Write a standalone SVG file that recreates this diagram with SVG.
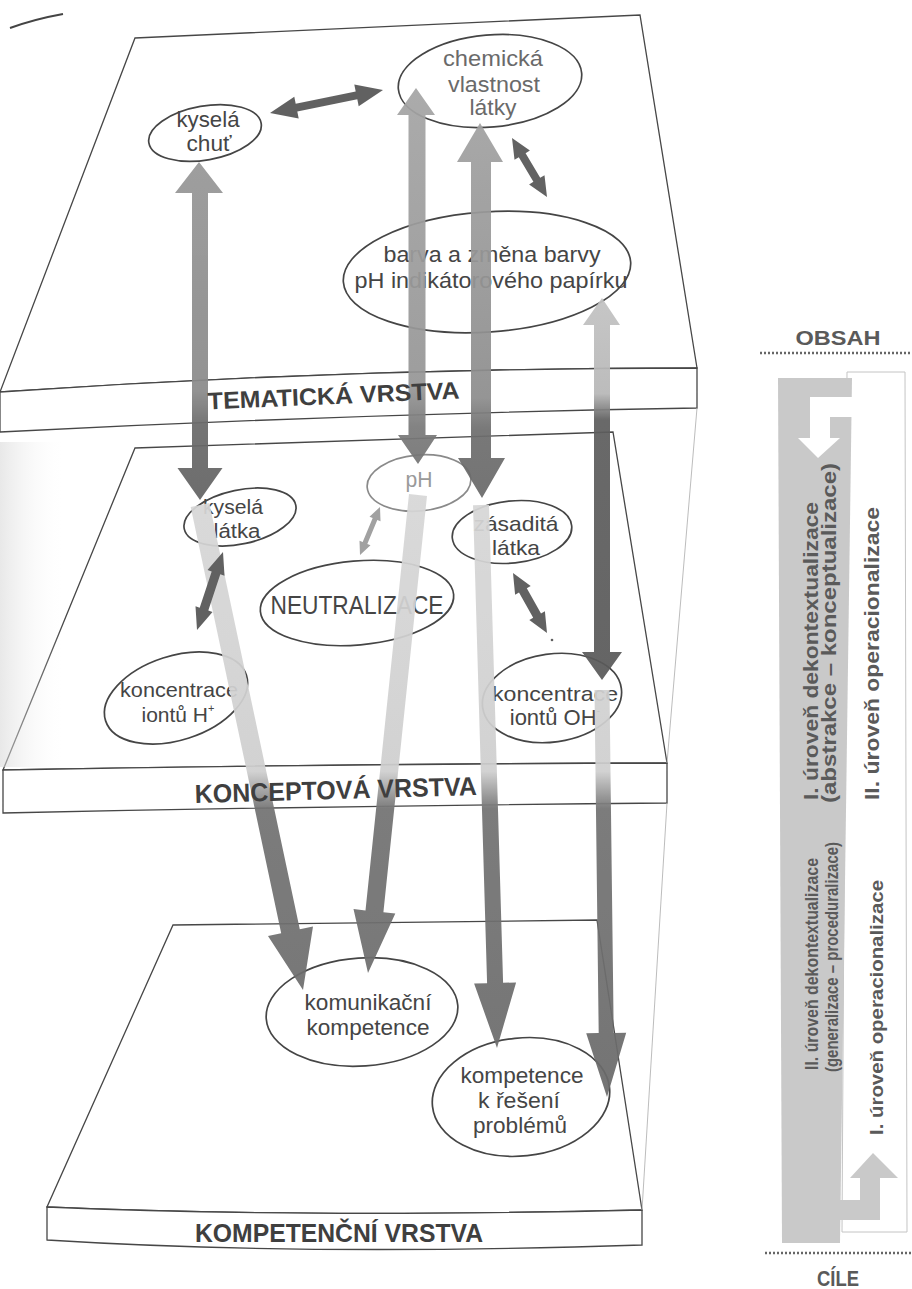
<svg xmlns="http://www.w3.org/2000/svg" width="912" height="1289" viewBox="0 0 912 1289">
<defs>
<style>
.face{fill:#fff;stroke:#474747;stroke-width:1.3}
.persp{stroke:#b4b4b4;stroke-width:0.9;fill:none}
.node ellipse{fill:none;stroke:#454545;stroke-width:1.7}
.t{font-family:"Liberation Sans",Arial,sans-serif;font-size:22px;fill:#454545;text-anchor:middle}
.lbl{font-family:"Liberation Sans",Arial,sans-serif;font-weight:bold;font-size:24px;fill:#3f3f3f;text-anchor:middle}
.dark{fill:#565656}
.side{font-family:"Liberation Sans",Arial,sans-serif;font-weight:bold;fill:#5a5a5a}
.dots{stroke:#666;stroke-width:2.5;stroke-dasharray:2 2;fill:none}
</style>
<linearGradient id="gA1" gradientUnits="userSpaceOnUse" x1="0" y1="160" x2="0" y2="500">
<stop offset="0" stop-color="#979797"/><stop offset="0.68" stop-color="#8a8a8a"/><stop offset="0.78" stop-color="#6a6a6a"/><stop offset="1" stop-color="#636363"/>
</linearGradient>
<linearGradient id="gA2" gradientUnits="userSpaceOnUse" x1="0" y1="88" x2="0" y2="464">
<stop offset="0" stop-color="#a5a5a5"/><stop offset="0.8" stop-color="#969696"/><stop offset="0.9" stop-color="#7a7a7a"/><stop offset="1" stop-color="#757575"/>
</linearGradient>
<linearGradient id="gA5" gradientUnits="userSpaceOnUse" x1="0" y1="123" x2="0" y2="498">
<stop offset="0" stop-color="#a2a2a2"/><stop offset="0.73" stop-color="#8e8e8e"/><stop offset="0.82" stop-color="#6e6e6e"/><stop offset="1" stop-color="#6a6a6a"/>
</linearGradient>
<linearGradient id="gA7" gradientUnits="userSpaceOnUse" x1="0" y1="298" x2="0" y2="680">
<stop offset="0" stop-color="#c2c2c2"/><stop offset="0.25" stop-color="#b8b8b8"/><stop offset="0.32" stop-color="#5e5e5e"/><stop offset="1" stop-color="#5a5a5a"/>
</linearGradient>
<linearGradient id="gLow" gradientUnits="userSpaceOnUse" x1="0" y1="480" x2="0" y2="1100">
<stop offset="0" stop-color="#d8d8d8"/><stop offset="0.47" stop-color="#cfcfcf"/><stop offset="0.53" stop-color="#737373"/><stop offset="1" stop-color="#6a6a6a"/>
</linearGradient>
<linearGradient id="shade" x1="0" y1="0" x2="1" y2="0">
<stop offset="0" stop-color="#d9d9d9" stop-opacity="0.6"/><stop offset="1" stop-color="#ffffff" stop-opacity="0"/>
</linearGradient>
</defs>
<rect width="912" height="1289" fill="#fff"/>

<g id="planes">
<path d="M10,28 Q35,19 63,14" fill="none" stroke="#444" stroke-width="2"/>
<path class="face" d="M135,38 L640,15 L697,368 Q350,368 0,392 Z"/>
<path class="face" d="M0,392 Q350,368 697,368 L697,408 Q350,414 0,432 Z"/>
<path class="face" d="M135,448 L613,432 L667,763 Q330,764 3,770 Z"/>
<rect x="0" y="442" width="65" height="325" fill="url(#shade)"/>
<path class="face" d="M3,770 Q330,764 667,763 L667,803 Q330,806 3,813 Z"/>
<path class="face" d="M173,925 L597,920 L642,1210 Q300,1218 47,1207 Z"/>
<path class="face" d="M47,1207 Q300,1218 642,1210 L642,1245 Q300,1256 47,1240 Z"/>
<line class="persp" x1="697" y1="408" x2="667" y2="763"/>
<line class="persp" x1="667" y1="803" x2="642" y2="1210"/>
</g>

<g id="n-kysela-chut" class="node">
<ellipse cx="205" cy="133" rx="57" ry="27" transform="rotate(-10 205 133)"/>
<text class="t" x="208" y="127" textLength="63" lengthAdjust="spacingAndGlyphs">kyselá</text>
<text class="t" x="209" y="151" textLength="45" lengthAdjust="spacingAndGlyphs">chuť</text>
</g>
<g id="n-chemicka" class="node">
<ellipse cx="490" cy="81" rx="92" ry="46" transform="rotate(-5 490 81)"/>
<text class="t" x="493" y="66" textLength="100" lengthAdjust="spacingAndGlyphs" style="fill:#6a6a6a">chemická</text>
<text class="t" x="494" y="92" textLength="92" lengthAdjust="spacingAndGlyphs" style="fill:#6a6a6a">vlastnost</text>
<text class="t" x="493" y="115" textLength="47" lengthAdjust="spacingAndGlyphs" style="fill:#6a6a6a">látky</text>
</g>
<g id="n-barva" class="node">
<ellipse cx="487" cy="272" rx="144" ry="60" transform="rotate(-4 487 272)"/>
<text class="t" x="492" y="262" textLength="217" lengthAdjust="spacingAndGlyphs">barva a změna barvy</text>
<text class="t" x="491" y="288" textLength="273" lengthAdjust="spacingAndGlyphs">pH indikátorového papírku</text>
</g>
<g id="n-kysela-latka" class="node">
<ellipse cx="240" cy="517" rx="57" ry="27" transform="rotate(-12 240 517)"/>
<text class="t" x="233" y="514" textLength="60" lengthAdjust="spacingAndGlyphs" style="font-size:20px">kyselá</text>
<text class="t" x="237" y="538" textLength="47" lengthAdjust="spacingAndGlyphs" style="font-size:20px">látka</text>
</g>
<g id="n-ph" class="node">
<ellipse cx="419" cy="483" rx="52" ry="28" transform="rotate(-5 419 483)" style="stroke:#8a8a8a"/>
<text class="t" x="419" y="487" textLength="27" lengthAdjust="spacingAndGlyphs" style="fill:#9a9a9a">pH</text>
</g>
<g id="n-zasadita" class="node">
<ellipse cx="512" cy="532" rx="60" ry="31" transform="rotate(-6 512 532)"/>
<text class="t" x="516" y="531" textLength="85" lengthAdjust="spacingAndGlyphs" style="font-size:21px">zásaditá</text>
<text class="t" x="516" y="555" textLength="48" lengthAdjust="spacingAndGlyphs" style="font-size:21px">látka</text>
</g>
<g id="n-neutralizace" class="node">
<ellipse cx="357" cy="603" rx="97" ry="42" transform="rotate(-5 357 603)"/>
<text class="t" x="357" y="614" textLength="173" lengthAdjust="spacingAndGlyphs" style="font-size:25px">NEUTRALIZACE</text>
</g>
<g id="n-koncentrace-h" class="node">
<ellipse cx="176" cy="698" rx="74" ry="42" transform="rotate(-18 176 698)"/>
<text class="t" x="179" y="697" textLength="118" lengthAdjust="spacingAndGlyphs" style="font-size:21px">koncentrace</text>
<text class="t" x="178" y="722" style="font-size:21px">iontů H<tspan dy="-10" style="font-size:11px">+</tspan></text>
</g>
<g id="n-koncentrace-oh" class="node">
<ellipse cx="552" cy="698" rx="70" ry="44" transform="rotate(-8 552 698)"/>
<text class="t" x="555" y="701" textLength="126" lengthAdjust="spacingAndGlyphs" style="font-size:21px">koncentrace</text>
<text class="t" x="555" y="725" style="font-size:22px">iontů OH<tspan dy="-11" style="font-size:11px">-</tspan></text>
</g>
<g id="n-komunikacni" class="node">
<ellipse cx="362" cy="1012" rx="96" ry="54" transform="rotate(-4 362 1012)"/>
<text class="t" x="368" y="1010" textLength="127" lengthAdjust="spacingAndGlyphs">komunikační</text>
<text class="t" x="368" y="1035" textLength="123" lengthAdjust="spacingAndGlyphs">kompetence</text>
</g>
<g id="n-reseni" class="node">
<ellipse cx="521" cy="1097" rx="89" ry="59" transform="rotate(-6 521 1097)"/>
<text class="t" x="522" y="1083" textLength="123" lengthAdjust="spacingAndGlyphs">kompetence</text>
<text class="t" x="519" y="1108" textLength="82" lengthAdjust="spacingAndGlyphs">k řešení</text>
<text class="t" x="520" y="1133" textLength="94" lengthAdjust="spacingAndGlyphs">problémů</text>
</g>

<g id="connectors" opacity="0.93">
<polygon fill="url(#gA1)" points="199,162 223,193 208,193 208,468 222.5,468 200,500 177.5,468 192,468 192,193 175,193"/>
<polygon fill="url(#gA2)" points="416,88 435,115 425.5,115 425.5,435 437,435 418,464 398,435 408.5,435 408.5,115 397,115"/>
<polygon fill="url(#gA5)" points="480,123 503,162 491,162 491,458 505,458 482,498 458,458 471,458 471,162 457,162"/>
<polygon fill="url(#gA7)" points="602,298 620,325 610,325 610,652 622,652 602,680 582,652 594,652 594,325 583,325"/>
<polygon fill="url(#gLow)" points="209.3,503 299.8,929.3 313,926.5 303,990 268,936.1 281.2,933.3 190.7,507"/>
<polygon fill="url(#gLow)" points="427,495.9 383.4,912.2 395.3,913.5 368,973 353.5,909.1 365.5,910.4 409,494.1"/>
<polygon fill="url(#gLow)" points="489,504.8 503.1,982.8 516.1,982.4 497,1048 474.1,983.6 487.1,983.2 473,505.2"/>
<polygon fill="url(#gLow)" points="609.5,689.9 613.7,1032.9 626.2,1032.8 607,1097 586.2,1033.2 598.7,1033.1 594.5,690.1"/>
<polygon class="dark" points="270,113 298.7,118.4 297.3,111.5 357.3,99.3 358.7,106.2 383,90 354.3,84.6 355.7,91.5 295.7,103.7 294.3,96.8"/>
<polygon class="dark" points="512,138 529.9,150.6 525.6,153.2 540.2,177.8 544.5,175.2 547,197 529.1,184.4 533.4,181.8 518.8,157.2 514.5,159.8"/>
<polygon class="dark" points="223,552 224.5,575.7 220.3,574.3 208.3,610.5 212.5,611.9 197,630 195.5,606.3 199.7,607.7 211.7,571.5 207.5,570.1"/>
<polygon fill="#9a9a9a" points="380,507 380.5,521.3 377.3,520 367.3,544 370.5,545.3 360,555 359.5,540.7 362.7,542 372.7,518 369.5,516.7"/>
<polygon class="dark" points="513,573 530.7,586 526.8,588.2 541,613.4 544.9,611.2 547,633 529.3,620 533.2,617.8 519,592.6 515.1,594.8"/>
<circle cx="552" cy="640" r="1.3" fill="#555"/>
</g>

<g id="layer-labels">
<text class="lbl" x="334" y="404" textLength="252" lengthAdjust="spacingAndGlyphs" transform="rotate(-2.5 334 404)">TEMATICKÁ VRSTVA</text>
<text class="lbl" x="336" y="799" textLength="282" lengthAdjust="spacingAndGlyphs" style="font-size:26px" transform="rotate(-1.6 336 799)">KONCEPTOVÁ VRSTVA</text>
<text class="lbl" x="339" y="1242" textLength="288" lengthAdjust="spacingAndGlyphs" style="font-size:25px">KOMPETENČNÍ VRSTVA</text>
</g>

<g id="side-panel">
<text class="side" x="838" y="345" text-anchor="middle" textLength="85" lengthAdjust="spacingAndGlyphs" style="font-size:21px">OBSAH</text>
<line class="dots" x1="760" y1="353" x2="912" y2="353"/>
<polygon points="847,372 905,372 907,1232 842,1232" fill="none" stroke="#c4c4c4" stroke-width="1"/>
<polygon points="778,378 852,378 840,1243 782,1243" fill="#c9c9c9"/>
<polygon points="853,397 810,397 810,438 798,438 818,458 840,438 830,438 830,417 853,417" fill="#fff"/>
<polygon points="838,1200 860,1200 860,1178 850,1178 873,1153 898,1178 880,1178 880,1220 838,1220" fill="#c9c9c9"/>
<text class="side" transform="translate(818,800) rotate(-90)" textLength="298" lengthAdjust="spacingAndGlyphs" style="font-size:20px">I. úroveň dekontextualizace</text>
<text class="side" transform="translate(836,803) rotate(-90)" textLength="340" lengthAdjust="spacingAndGlyphs" style="font-size:20px">(abstrakce – konceptualizace)</text>
<text class="side" transform="translate(879,800) rotate(-90)" textLength="293" lengthAdjust="spacingAndGlyphs" style="font-size:20px">II. úroveň operacionalizace</text>
<text class="side" transform="translate(818,1070) rotate(-90)" textLength="212" lengthAdjust="spacingAndGlyphs" style="font-size:19px">II. úroveň dekontextualizace</text>
<text class="side" transform="translate(838,1072) rotate(-90)" textLength="230" lengthAdjust="spacingAndGlyphs" style="font-size:19px">(generalizace – proceduralizace)</text>
<text class="side" transform="translate(883,1135) rotate(-90)" textLength="255" lengthAdjust="spacingAndGlyphs" style="font-size:19px">I. úroveň operacionalizace</text>
<line class="dots" x1="765" y1="1253" x2="912" y2="1253"/>
<text class="side" x="838" y="1286" text-anchor="middle" textLength="42" lengthAdjust="spacingAndGlyphs" style="font-size:22px">CÍLE</text>
</g>
</svg>
